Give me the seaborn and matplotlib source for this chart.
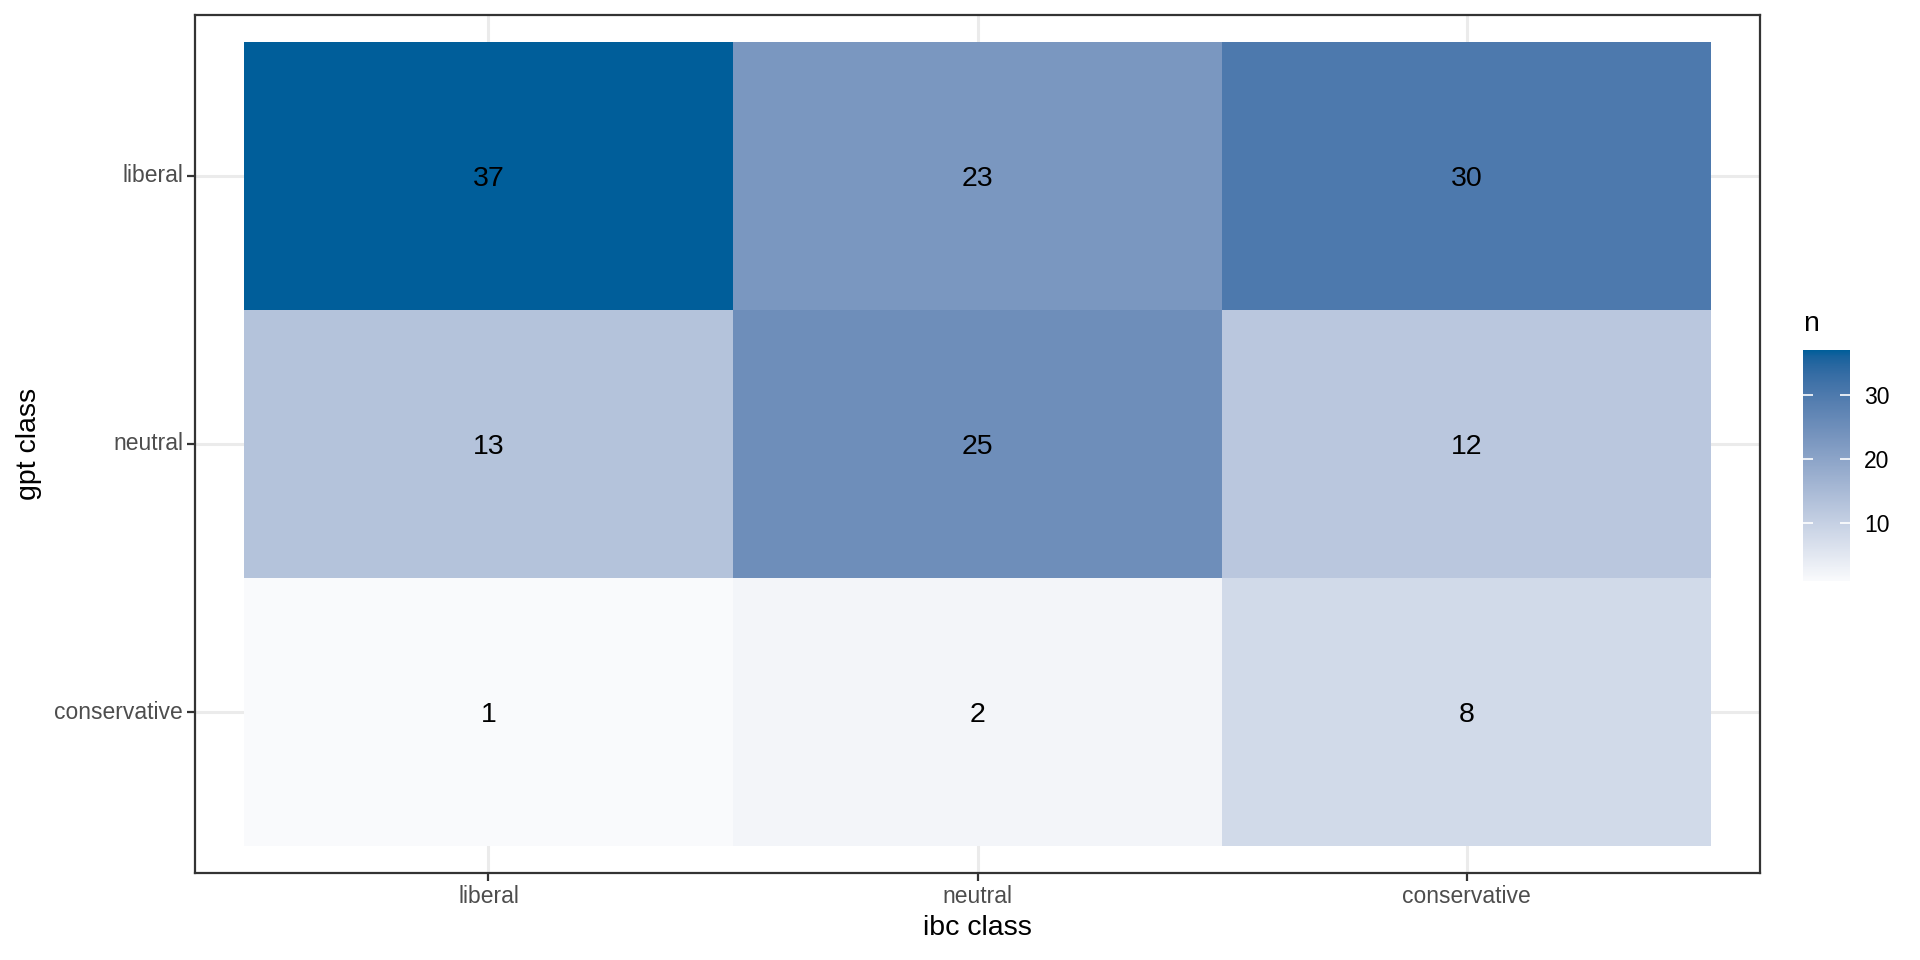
import numpy as np
import pandas as pd
import seaborn as sns
import matplotlib
matplotlib.use("Agg")
import matplotlib.pyplot as plt
from matplotlib.colors import ListedColormap, to_rgb

gpt_classes = ["liberal", "neutral", "conservative"]
ibc_classes = ["liberal", "neutral", "conservative"]
counts_liberal = [37, 23, 30]
counts_neutral = [13, 25, 12]
counts_conservative = [1, 2, 8]

low_col = "#F9FAFC"
high_col = "#005E9A"


# ggplot-like gradient: interpolate in CIELAB
def srgb_to_lab(rgb):
    c = np.array(rgb, dtype=float)
    c = np.where(c <= 0.04045, c / 12.92, ((c + 0.055) / 1.055) ** 2.4)
    m = np.array([[0.4124, 0.3576, 0.1805],
                  [0.2126, 0.7152, 0.0722],
                  [0.0193, 0.1192, 0.9505]])
    xyz = m @ c / np.array([0.95047, 1.0, 1.08883])
    f = np.where(xyz > 0.008856, np.cbrt(xyz), 7.787 * xyz + 16 / 116)
    return np.array([116 * f[1] - 16, 500 * (f[0] - f[1]), 200 * (f[1] - f[2])])


def lab_to_srgb(lab):
    fy = (lab[0] + 16) / 116
    fx = fy + lab[1] / 500
    fz = fy - lab[2] / 200
    f = np.array([fx, fy, fz])
    xyz = np.where(f ** 3 > 0.008856, f ** 3, (f - 16 / 116) / 7.787)
    xyz = xyz * np.array([0.95047, 1.0, 1.08883])
    minv = np.array([[3.2406, -1.5372, -0.4986],
                     [-0.9689, 1.8758, 0.0415],
                     [0.0557, -0.2040, 1.0570]])
    c = minv @ xyz
    c = np.where(c <= 0.0031308, 12.92 * c, 1.055 * np.clip(c, 0, None) ** (1 / 2.4) - 0.055)
    return np.clip(c, 0, 1)


lab_lo = srgb_to_lab(to_rgb(low_col))
lab_hi = srgb_to_lab(to_rgb(high_col))
cmap = ListedColormap([lab_to_srgb(lab_lo + t * (lab_hi - lab_lo)) for t in np.linspace(0, 1, 256)])

df = pd.DataFrame([counts_liberal, counts_neutral, counts_conservative],
                  index=gpt_classes, columns=ibc_classes)

plt.rcParams["font.family"] = ["Liberation Sans", "DejaVu Sans"]

fig = plt.figure(figsize=(19.2, 9.6), dpi=100)
ax = fig.add_axes([195 / 1920, 1 - 873 / 960, 1565 / 1920, 858 / 960])
cax = fig.add_axes([1803 / 1920, 1 - 581 / 960, 47 / 1920, 231 / 960])

sns.heatmap(df, ax=ax, cbar_ax=cax, cmap=cmap, vmin=1, vmax=37,
            annot=True, fmt="d",
            annot_kws={"color": "black", "fontsize": 20.5, "va": "center_baseline"})

ax.set_xlim(-0.1, 3.1)
ax.set_ylim(3.1, -0.1)
ax.set_axisbelow(True)
ax.grid(True, color="#EBEBEB", linewidth=2.2)
for s in ax.spines.values():
    s.set_visible(True)
    s.set_color("#333333")
    s.set_linewidth(1.6)

ax.set_xticks([0.5, 1.5, 2.5])
ax.set_xticklabels(ibc_classes, rotation=0)
ax.set_yticks([0.5, 1.5, 2.5])
ax.set_yticklabels(gpt_classes, rotation=0)
ax.tick_params(axis="both", length=5.5, width=1.6, color="#333333",
               labelsize=16.5, labelcolor="#4D4D4D", pad=3)
ax.set_xlabel("ibc class", fontsize=20.5, labelpad=5)
ax.set_ylabel("gpt class", fontsize=20.5, labelpad=9)

cbar = ax.collections[0].colorbar
cbar.outline.set_visible(False)
cbar.set_ticks([10, 20, 30])
cax.tick_params(axis="y", direction="in", left=True, right=True, length=7,
                width=1.2, color="white", labelsize=16.5, labelcolor="black", pad=10)
cax.set_title("n", fontsize=20.5, loc="left", pad=14)

fig.savefig("out.png", dpi=100, facecolor="white")
